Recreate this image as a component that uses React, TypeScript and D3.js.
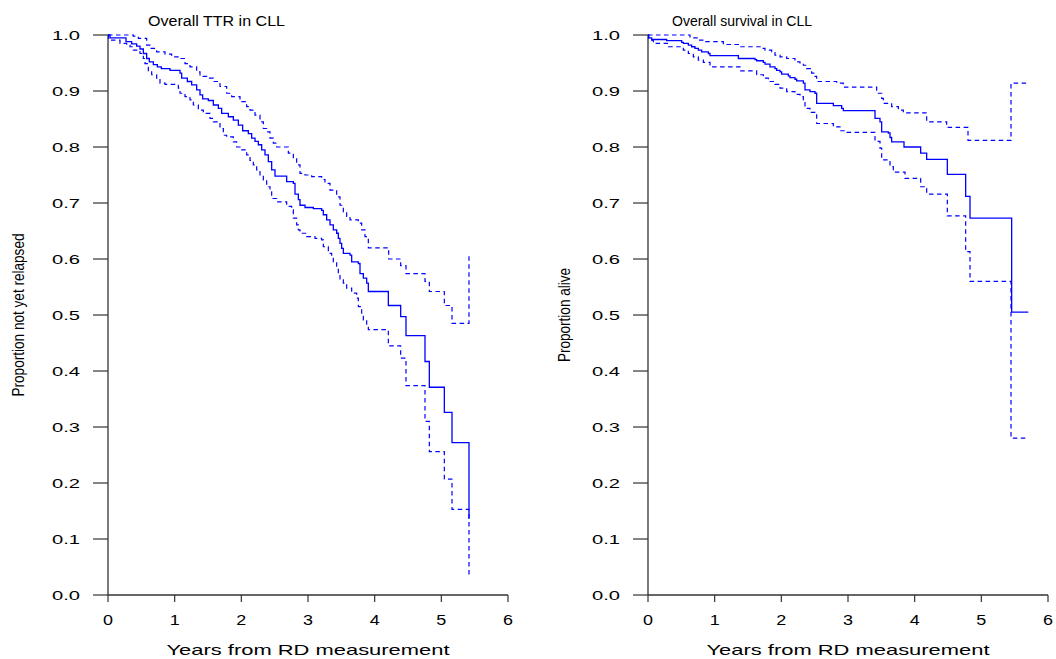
import React from "react";
import * as d3 from "d3";

// ---------- Data ----------
const xTickValues = [0, 1, 2, 3, 4, 5, 6];
const xTickLabels = ["0", "1", "2", "3", "4", "5", "6"];
const yTickValues = [0, 0.1, 0.2, 0.3, 0.4, 0.5, 0.6, 0.7, 0.8, 0.9, 1.0];
const yTickLabels = ["0.0", "0.1", "0.2", "0.3", "0.4", "0.5", "0.6", "0.7", "0.8", "0.9", "1.0"];

// Left panel: Overall TTR in CLL
const ttrEnd = 5.42;
const ttrTime = [0.03, 0.27, 0.355, 0.43, 0.48, 0.53, 0.58, 0.62, 0.68, 0.74, 0.8, 0.93, 1.08, 1.105, 1.19, 1.255, 1.33, 1.38, 1.42, 1.505, 1.58, 1.655, 1.705, 1.805, 1.88, 1.955, 2.02, 2.105, 2.155, 2.205, 2.255, 2.305, 2.355, 2.405, 2.455, 2.505, 2.68, 2.78, 2.805, 2.855, 2.88, 2.955, 3.08, 3.205, 3.23, 3.28, 3.33, 3.38, 3.43, 3.455, 3.48, 3.505, 3.53, 3.63, 3.655, 3.755, 3.78, 3.83, 3.88, 3.905, 4.205, 4.39, 4.47, 4.755, 4.82, 5.045, 5.16, 5.415];
const ttrSurv = [0.995, 0.988, 0.984, 0.98, 0.975, 0.967, 0.958, 0.952, 0.947, 0.943, 0.94, 0.937, 0.932, 0.923, 0.917, 0.911, 0.902, 0.893, 0.886, 0.883, 0.875, 0.869, 0.86, 0.854, 0.848, 0.839, 0.829, 0.824, 0.816, 0.81, 0.804, 0.795, 0.786, 0.774, 0.759, 0.748, 0.738, 0.735, 0.716, 0.706, 0.696, 0.692, 0.69, 0.687, 0.679, 0.67, 0.661, 0.652, 0.646, 0.637, 0.628, 0.619, 0.61, 0.607, 0.595, 0.592, 0.574, 0.566, 0.557, 0.542, 0.517, 0.497, 0.463, 0.417, 0.371, 0.326, 0.272, 0.137];

const ttrUpperTime = [0.38, 0.455, 0.58, 0.63, 0.73, 0.855, 0.955, 1.08, 1.155, 1.23, 1.33, 1.38, 1.48, 1.58, 1.68, 1.78, 1.855, 1.98, 2.08, 2.13, 2.205, 2.28, 2.33, 2.38, 2.43, 2.48, 2.53, 2.705, 2.78, 2.83, 2.88, 2.955, 3.055, 3.205, 3.255, 3.33, 3.43, 3.48, 3.53, 3.58, 3.63, 3.755, 3.805, 3.855, 3.905, 4.21, 4.39, 4.47, 4.755, 4.82, 5.045, 5.16, 5.415];
const ttrUpper = [0.998, 0.994, 0.982, 0.976, 0.97, 0.966, 0.961, 0.958, 0.949, 0.943, 0.934, 0.926, 0.923, 0.917, 0.908, 0.896, 0.89, 0.881, 0.872, 0.866, 0.857, 0.845, 0.833, 0.827, 0.816, 0.807, 0.8, 0.789, 0.78, 0.768, 0.753, 0.75, 0.747, 0.742, 0.735, 0.723, 0.711, 0.696, 0.684, 0.676, 0.67, 0.664, 0.652, 0.64, 0.62, 0.6, 0.588, 0.574, 0.56, 0.542, 0.517, 0.485, 0.607];

const ttrLowerTime = [0.01, 0.18, 0.28, 0.33, 0.38, 0.48, 0.53, 0.555, 0.605, 0.655, 0.73, 0.78, 0.855, 1.055, 1.08, 1.155, 1.23, 1.28, 1.355, 1.43, 1.53, 1.58, 1.68, 1.73, 1.78, 1.88, 1.93, 1.98, 2.08, 2.13, 2.18, 2.23, 2.28, 2.33, 2.38, 2.43, 2.455, 2.53, 2.68, 2.755, 2.78, 2.83, 2.855, 2.88, 2.98, 3.105, 3.205, 3.23, 3.305, 3.355, 3.38, 3.43, 3.455, 3.48, 3.53, 3.58, 3.655, 3.73, 3.755, 3.805, 3.83, 3.88, 3.905, 4.205, 4.39, 4.47, 4.755, 4.82, 5.045, 5.16, 5.415];
const ttrLower = [0.991, 0.985, 0.982, 0.979, 0.973, 0.967, 0.958, 0.949, 0.934, 0.929, 0.923, 0.914, 0.912, 0.905, 0.896, 0.89, 0.884, 0.875, 0.866, 0.86, 0.851, 0.845, 0.833, 0.821, 0.818, 0.809, 0.8, 0.795, 0.786, 0.776, 0.768, 0.759, 0.75, 0.741, 0.729, 0.72, 0.708, 0.702, 0.694, 0.688, 0.673, 0.661, 0.652, 0.646, 0.64, 0.637, 0.634, 0.622, 0.61, 0.604, 0.595, 0.586, 0.574, 0.563, 0.557, 0.548, 0.539, 0.53, 0.515, 0.5, 0.491, 0.482, 0.474, 0.445, 0.423, 0.374, 0.31, 0.256, 0.207, 0.153, 0.033];

// Right panel: Overall survival in CLL
const osEnd = 5.705;
const osTime = [0.01, 0.055, 0.28, 0.505, 0.53, 0.605, 0.655, 0.705, 0.755, 0.805, 0.905, 0.93, 1.355, 1.605, 1.63, 1.73, 1.755, 1.83, 1.905, 1.93, 1.98, 2.005, 2.105, 2.13, 2.205, 2.23, 2.33, 2.355, 2.43, 2.505, 2.53, 2.78, 2.905, 2.93, 3.405, 3.48, 3.505, 3.605, 3.63, 3.655, 3.84, 4.09, 4.18, 4.49, 4.765, 4.83, 5.455];
const osSurv = [0.995, 0.992, 0.99, 0.987, 0.985, 0.982, 0.979, 0.976, 0.973, 0.97, 0.967, 0.963, 0.958, 0.956, 0.954, 0.951, 0.948, 0.943, 0.94, 0.937, 0.934, 0.93, 0.927, 0.924, 0.921, 0.918, 0.914, 0.902, 0.899, 0.896, 0.878, 0.874, 0.869, 0.865, 0.851, 0.845, 0.827, 0.825, 0.817, 0.809, 0.8, 0.789, 0.778, 0.751, 0.712, 0.673, 0.505];

const osUpperTime = [0.63, 0.755, 0.855, 1.13, 1.38, 1.705, 1.755, 1.855, 1.905, 1.98, 2.08, 2.205, 2.28, 2.33, 2.38, 2.455, 2.505, 2.53, 2.83, 2.93, 3.43, 3.505, 3.53, 3.655, 3.755, 3.83, 4.18, 4.48, 4.8, 5.445];
const osUpper = [0.995, 0.991, 0.988, 0.983, 0.979, 0.976, 0.973, 0.97, 0.964, 0.961, 0.958, 0.952, 0.949, 0.946, 0.94, 0.932, 0.926, 0.917, 0.914, 0.907, 0.896, 0.887, 0.878, 0.872, 0.866, 0.861, 0.845, 0.835, 0.812, 0.914];

const osLowerTime = [0.01, 0.08, 0.305, 0.53, 0.605, 0.68, 0.755, 0.83, 0.93, 1.38, 1.63, 1.73, 1.805, 1.905, 1.98, 2.08, 2.205, 2.28, 2.33, 2.355, 2.43, 2.505, 2.53, 2.78, 2.88, 2.955, 3.405, 3.48, 3.505, 3.63, 3.68, 3.855, 4.09, 4.17, 4.18, 4.49, 4.765, 4.83, 5.445];
const osLower = [0.991, 0.985, 0.979, 0.973, 0.967, 0.961, 0.955, 0.951, 0.943, 0.936, 0.929, 0.923, 0.917, 0.912, 0.905, 0.899, 0.894, 0.89, 0.884, 0.869, 0.862, 0.86, 0.842, 0.836, 0.829, 0.826, 0.81, 0.798, 0.777, 0.765, 0.755, 0.744, 0.729, 0.726, 0.716, 0.677, 0.613, 0.56, 0.28];

// ---------- Layout ----------
const W = 1056;
const H = 659;
const yTop = 35;
const yBottom = 595;
const FONT = "'Liberation Sans', Arial, Helvetica, sans-serif";

type Panel = {
  x0: number;
  title: string;
  titleX: number;
  titleLen: number;
  ylabel: string;
  ylabelX: number;
  ylabelLen: number;
  end: number;
  est: [number[], number[]];
  upper: [number[], number[]];
  lower: [number[], number[]];
};

const panels: Panel[] = [
  {
    x0: 108,
    title: "Overall TTR in CLL",
    titleX: 148,
    titleLen: 137,
    ylabel: "Proportion not yet relapsed",
    ylabelX: 24,
    ylabelLen: 163,
    end: ttrEnd,
    est: [ttrTime, ttrSurv],
    upper: [ttrUpperTime, ttrUpper],
    lower: [ttrLowerTime, ttrLower],
  },
  {
    x0: 648,
    title: "Overall survival in CLL",
    titleX: 672,
    titleLen: 140,
    ylabel: "Proportion alive",
    ylabelX: 570,
    ylabelLen: 94,
    end: osEnd,
    est: [osTime, osSurv],
    upper: [osUpperTime, osUpper],
    lower: [osLowerTime, osLower],
  },
];

function buildPoints(times: number[], vals: number[], end: number): [number, number][] {
  const pts: [number, number][] = [[0, 1]];
  times.forEach((t, i) => pts.push([t, vals[i]]));
  pts.push([end, vals[vals.length - 1]]);
  return pts;
}

function PanelView({ p }: { p: Panel }) {
  const x = d3.scaleLinear().domain([0, 6]).range([p.x0, p.x0 + 400]);
  const y = d3.scaleLinear().domain([0, 1]).range([yBottom, yTop]);
  const line = d3
    .line<[number, number]>()
    .x((d) => x(d[0]))
    .y((d) => y(d[1]))
    .curve(d3.curveStepAfter);

  const estPath = line(buildPoints(p.est[0], p.est[1], p.end)) || "";
  const upPath = line(buildPoints(p.upper[0], p.upper[1], p.end)) || "";
  const loPath = line(buildPoints(p.lower[0], p.lower[1], p.end)) || "";
  const axisX = x(0);
  const ylabCenter = (yTop + yBottom) / 2;

  return (
    <g>
      <text x={p.titleX} y={25.5} fontSize={15.5} fontFamily={FONT} textLength={p.titleLen} lengthAdjust="spacingAndGlyphs" fill="#000">
        {p.title}
      </text>
      {/* y axis */}
      <line x1={axisX} x2={axisX} y1={y(0)} y2={y(1)} stroke="#333" strokeWidth={1.3} />
      {yTickValues.map((v, i) => (
        <g key={"y" + i}>
          <line x1={axisX - 15} x2={axisX} y1={y(v)} y2={y(v)} stroke="#333" strokeWidth={1.2} />
          <text
            x={axisX - 28}
            y={y(v) + 4.8}
            fontSize={13.5}
            fontFamily={FONT}
            textAnchor="end"
            textLength={28}
            lengthAdjust="spacingAndGlyphs"
            fill="#000"
          >
            {yTickLabels[i]}
          </text>
        </g>
      ))}
      {/* x axis */}
      <line x1={x(0)} x2={x(6)} y1={yBottom} y2={yBottom} stroke="#333" strokeWidth={1.3} />
      {xTickValues.map((v, i) => (
        <g key={"x" + i}>
          <line x1={x(v)} x2={x(v)} y1={yBottom} y2={yBottom + 7} stroke="#333" strokeWidth={1.2} />
          <text
            x={x(v)}
            y={624.5}
            fontSize={14}
            fontFamily={FONT}
            textAnchor="middle"
            textLength={10}
            lengthAdjust="spacingAndGlyphs"
            fill="#000"
          >
            {xTickLabels[i]}
          </text>
        </g>
      ))}
      <text
        x={(x(0) + x(6)) / 2}
        y={655}
        fontSize={15}
        fontFamily={FONT}
        textAnchor="middle"
        textLength={283}
        lengthAdjust="spacingAndGlyphs"
        fill="#000"
      >
        Years from RD measurement
      </text>
      <text
        transform={`translate(${p.ylabelX},${ylabCenter}) rotate(-90)`}
        fontSize={17}
        fontFamily={FONT}
        textAnchor="middle"
        textLength={p.ylabelLen}
        lengthAdjust="spacingAndGlyphs"
        fill="#000"
      >
        {p.ylabel}
      </text>
      {/* curves */}
      <path d={upPath} fill="none" stroke="#0000ff" strokeWidth={1.2} strokeDasharray="4.5,3.5" />
      <path d={loPath} fill="none" stroke="#0000ff" strokeWidth={1.2} strokeDasharray="4.5,3.5" />
      <path d={estPath} fill="none" stroke="#0000ff" strokeWidth={1.3} />
    </g>
  );
}

export default function App() {
  return (
    <svg
      width={W}
      height={H}
      viewBox={`0 0 ${W} ${H}`}
      style={{ position: "absolute", left: 0, top: 0, background: "#fff" }}
    >
      <rect x={0} y={0} width={W} height={H} fill="#fff" />
      {panels.map((p, i) => (
        <PanelView key={i} p={p} />
      ))}
    </svg>
  );
}
